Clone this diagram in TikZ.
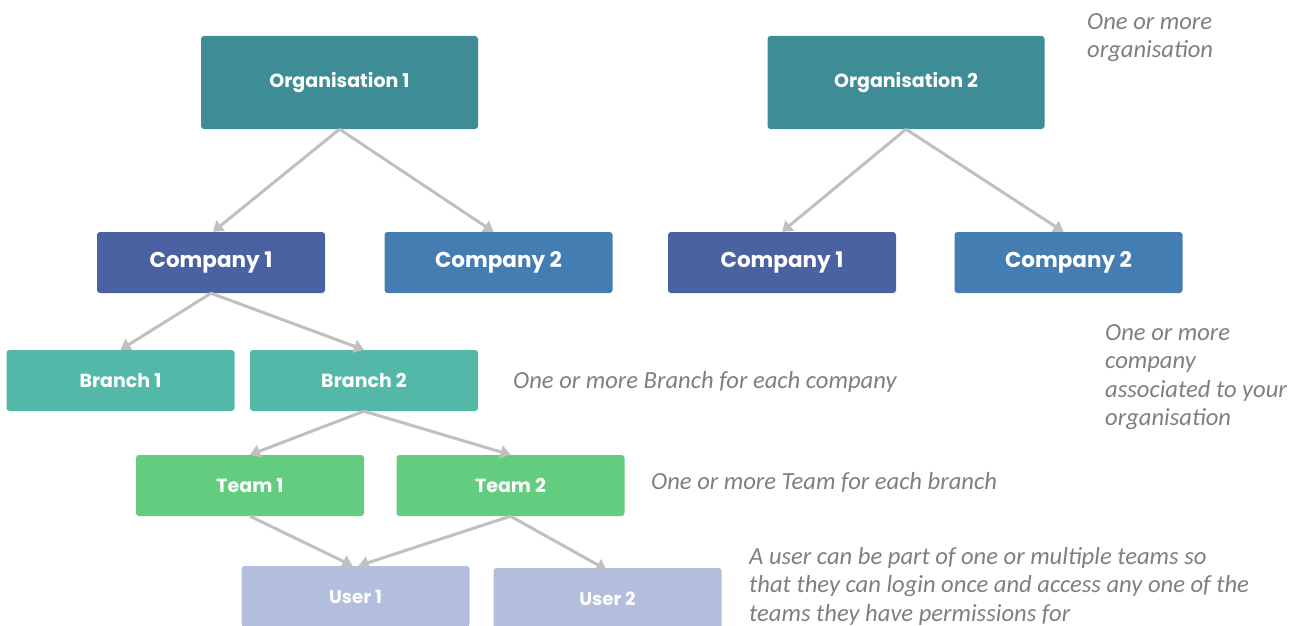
\documentclass[tikz,border=0pt]{standalone}
\usepackage{fontspec}
\usetikzlibrary{arrows.meta,positioning,calc}
\newfontfamily\popfont{Poppins}
\newfontfamily\annfont{Carlito}
\definecolor{orgc}{HTML}{3E8C96}
\definecolor{compa}{HTML}{4A62A1}
\definecolor{compb}{HTML}{447DB1}
\definecolor{branchc}{HTML}{53B8A8}
\definecolor{teamc}{HTML}{62CC7F}
\definecolor{userc}{HTML}{B3BEDD}
\definecolor{arrc}{HTML}{C0C0C0}
\definecolor{annc}{HTML}{7F7F7F}
\tikzset{
  box/.style={rectangle, rounded corners=3pt, text=white, inner sep=0pt,
    minimum width=228pt, minimum height=61pt, font=\popfont\bfseries\fontsize{19}{22}\selectfont},
  orgbox/.style={box, fill=orgc, minimum width=277pt, minimum height=93pt},
  compbox/.style={box, font=\popfont\bfseries\fontsize{21.5}{25}\selectfont},
  teambox/.style={box, fill=teamc, font=\popfont\bfseries\fontsize{19}{22}\selectfont},
  userbox/.style={box, fill=userc, font=\popfont\bfseries\fontsize{18.2}{22}\selectfont},
  conn/.style={draw=arrc, line width=3pt, -{Triangle[length=10pt,width=13pt]}, shorten >=0pt},
  ann/.style={font=\annfont\itshape\fontsize{24.6}{28.5}\selectfont, text=annc, anchor=west, align=left, inner sep=0pt}
}
\begin{document}
\begin{tikzpicture}[x=1pt,y=-1pt]
\useasboundingbox (0,0) rectangle (1303,626);
\clip (0,0) rectangle (1303,626);
% nodes
\node[orgbox] (o1) at (339.5,82.5) {\raisebox{-2pt}{Organisation 1}};
\node[orgbox] (o2) at (906,82.5) {\raisebox{-2pt}{Organisation 2}};
\node[compbox, fill=compa] (c1) at (211,262.5) {\raisebox{-2pt}{Company 1}};
\node[compbox, fill=compb] (c2) at (498.5,262.5) {\raisebox{-2pt}{Company 2}};
\node[compbox, fill=compa] (c3) at (782,262.5) {\raisebox{-2pt}{Company 1}};
\node[compbox, fill=compb] (c4) at (1068.5,262.5) {\raisebox{-2pt}{Company 2}};
\node[box, fill=branchc] (b1) at (120.5,380.5) {Branch 1};
\node[box, fill=branchc] (b2) at (364,380.5) {Branch 2};
\node[teambox] (t1) at (250,485.5) {Team 1};
\node[teambox] (t2) at (510.5,485.5) {Team 2};
\node[userbox] (u1) at (355.5,596.5) {User 1};
\node[userbox] (u2) at (607.5,598.5) {User 2};
% connectors
\draw[conn] (o1.south) -- ([xshift=2pt]c1.north);
\draw[conn] (o1.south) -- ([xshift=-5pt]c2.north);
\draw[conn] (o2.south) -- (c3.north);
\draw[conn] (o2.south) -- ([xshift=-5pt]c4.north);
\draw[conn] (c1.south) -- (b1.north);
\draw[conn] (c1.south) -- (b2.north);
\draw[conn] (b2.south) -- (t1.north);
\draw[conn] (b2.south) -- (t2.north);
\draw[conn] (t1.south) -- ([xshift=-3pt]u1.north);
\draw[conn] (t2.south) -- ([xshift=3pt]u1.north);
\draw[conn] (t2.south) -- ([xshift=-1pt,yshift=-2pt]u2.north);
% annotations
\node[ann, anchor=north west] (a1) at (1087,13) {One or more\\organisation};
\node[ann] (a2) at (513,382) {One or more Branch for each company};
\node[ann] (a3) at (651,482) {One or more Team for each branch};
\node[ann, anchor=north west] (a4) at (1105,324) {One or more\\company\\associated to your\\organisation};
\node[ann, anchor=north west] (a5) at (749,547) {A user can be part of one or multiple teams so\\that they can login once and access any one of the\\teams they have permissions for};
\end{tikzpicture}
\end{document}
